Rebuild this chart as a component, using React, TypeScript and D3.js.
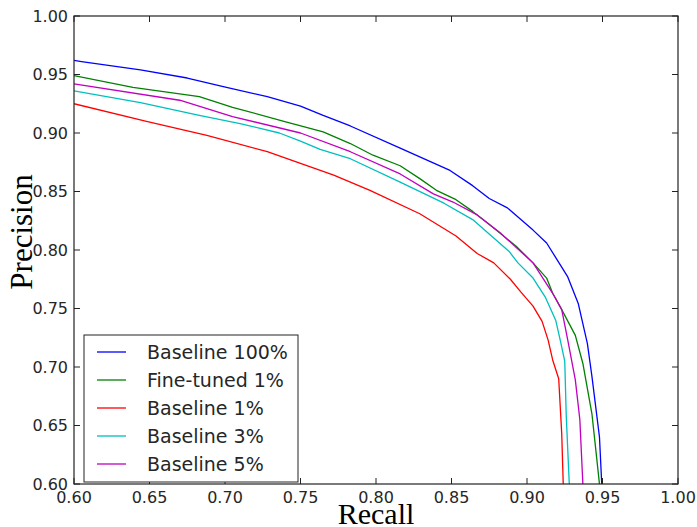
import React from "react";
import * as d3 from "d3";

const seriesNames = ["Baseline 100%", "Fine-tuned 1%", "Baseline 1%", "Baseline 3%", "Baseline 5%"];
const seriesColors = ["#0000ff", "#008000", "#ff0000", "#00bfbf", "#bf00bf"];

const recallB100 = [0.600, 0.605, 0.644, 0.675, 0.701, 0.728, 0.750, 0.765, 0.783, 0.816, 0.849, 0.864, 0.875, 0.887, 0.904, 0.913, 0.927, 0.934, 0.940, 0.943, 0.948, 0.9495];
const precB100 = [0.962, 0.961, 0.954, 0.947, 0.939, 0.931, 0.923, 0.915, 0.906, 0.887, 0.868, 0.855, 0.844, 0.836, 0.817, 0.806, 0.777, 0.754, 0.720, 0.692, 0.640, 0.600];

const recallFT1 = [0.600, 0.639, 0.683, 0.705, 0.739, 0.765, 0.783, 0.798, 0.816, 0.829, 0.840, 0.853, 0.864, 0.873, 0.893, 0.904, 0.913, 0.917, 0.923, 0.932, 0.937, 0.943, 0.948];
const precFT1 = [0.949, 0.939, 0.931, 0.922, 0.910, 0.901, 0.891, 0.881, 0.872, 0.861, 0.851, 0.843, 0.833, 0.824, 0.803, 0.789, 0.776, 0.763, 0.749, 0.727, 0.703, 0.660, 0.600];

const recallB1 = [0.600, 0.648, 0.688, 0.728, 0.750, 0.772, 0.796, 0.829, 0.853, 0.867, 0.878, 0.889, 0.896, 0.904, 0.910, 0.914, 0.917, 0.921, 0.923, 0.924];
const precB1 = [0.925, 0.910, 0.898, 0.884, 0.874, 0.864, 0.851, 0.831, 0.812, 0.797, 0.789, 0.775, 0.764, 0.752, 0.739, 0.723, 0.706, 0.690, 0.643, 0.600];

const recallB3 = [0.600, 0.644, 0.683, 0.710, 0.736, 0.750, 0.763, 0.783, 0.816, 0.845, 0.864, 0.888, 0.894, 0.904, 0.912, 0.919, 0.922, 0.925, 0.926, 0.928];
const precB3 = [0.936, 0.926, 0.915, 0.908, 0.900, 0.893, 0.886, 0.878, 0.858, 0.840, 0.826, 0.799, 0.789, 0.776, 0.760, 0.740, 0.723, 0.705, 0.658, 0.600];

const recallB5 = [0.600, 0.670, 0.705, 0.750, 0.783, 0.816, 0.838, 0.851, 0.867, 0.882, 0.904, 0.917, 0.923, 0.927, 0.932, 0.935, 0.937];
const precB5 = [0.942, 0.928, 0.914, 0.900, 0.884, 0.865, 0.848, 0.841, 0.830, 0.815, 0.789, 0.763, 0.749, 0.723, 0.689, 0.655, 0.600];

const xTicks = [0.6, 0.65, 0.7, 0.75, 0.8, 0.85, 0.9, 0.95, 1.0];
const yTicks = [0.6, 0.65, 0.7, 0.75, 0.8, 0.85, 0.9, 0.95, 1.0];

const W = 697;
const H = 527;
const L = 74, R = 678, T = 16, B = 484;

export default function App() {
  const x = d3.scaleLinear().domain([0.6, 1.0]).range([L, R]);
  const y = d3.scaleLinear().domain([0.6, 1.0]).range([B, T]);
  const recalls = [recallB100, recallFT1, recallB1, recallB3, recallB5];
  const precs = [precB100, precFT1, precB1, precB3, precB5];
  const line = d3.line<[number, number]>().x(d => x(d[0])).y(d => y(d[1]));
  const tickLen = 6;
  const axisColor = "#222";
  const textColor = "#262626";
  const legX = 84, legY = 335, legW = 214, legH = 147;
  return (
    <svg width={W} height={H} style={{ position: "absolute", left: 0, top: 0, background: "#fff" }}>
      <rect x={0} y={0} width={W} height={H} fill="#fff" />
      <defs>
        <clipPath id="plot">
          <rect x={L} y={T} width={R - L} height={B - T} />
        </clipPath>
      </defs>
      <g clipPath="url(#plot)">
        {recalls.map((rc, i) => (
          <path
            key={i}
            d={line(rc.map((r, j) => [r, precs[i][j]] as [number, number])) || ""}
            fill="none"
            stroke={seriesColors[i]}
            strokeWidth={1.3}
            strokeLinejoin="round"
          />
        ))}
      </g>
      {xTicks.map((t, i) => (
        <g key={"xt" + i}>
          <line x1={x(t)} x2={x(t)} y1={B} y2={B - tickLen} stroke={axisColor} strokeWidth={1} />
          <line x1={x(t)} x2={x(t)} y1={T} y2={T + tickLen} stroke={axisColor} strokeWidth={1} />
          <text x={x(t)} y={503} textAnchor="middle" fontFamily="DejaVu Sans" fontSize={16} fill={textColor}>
            {t.toFixed(2)}
          </text>
        </g>
      ))}
      {yTicks.map((t, i) => (
        <g key={"yt" + i}>
          <line x1={L} x2={L + tickLen} y1={y(t)} y2={y(t)} stroke={axisColor} strokeWidth={1} />
          <line x1={R} x2={R - tickLen} y1={y(t)} y2={y(t)} stroke={axisColor} strokeWidth={1} />
          <text x={68} y={y(t)} dy="0.36em" textAnchor="end" fontFamily="DejaVu Sans" fontSize={16} fill={textColor}>
            {t.toFixed(2)}
          </text>
        </g>
      ))}
      <rect x={L} y={T} width={R - L} height={B - T} fill="none" stroke={axisColor} strokeWidth={1.2} />
      <rect x={legX} y={legY} width={legW} height={legH} fill="#fff" stroke={axisColor} strokeWidth={1} />
      {seriesNames.map((n, i) => {
        const ly = 352 + i * 28;
        return (
          <g key={"lg" + i}>
            <line x1={97} x2={126} y1={ly} y2={ly} stroke={seriesColors[i]} strokeWidth={1.3} />
            <text x={147} y={ly + 7} fontFamily="DejaVu Sans" fontSize={19} fill={textColor}>
              {n}
            </text>
          </g>
        );
      })}
      <text x={(L + R) / 2} y={524} textAnchor="middle" fontFamily="Liberation Serif" fontSize={30} fill="#000">
        Recall
      </text>
      <text
        transform={`translate(32, 232) rotate(-90)`}
        textAnchor="middle"
        fontFamily="Liberation Serif"
        fontSize={31}
        fill="#000"
      >
        Precision
      </text>
    </svg>
  );
}
